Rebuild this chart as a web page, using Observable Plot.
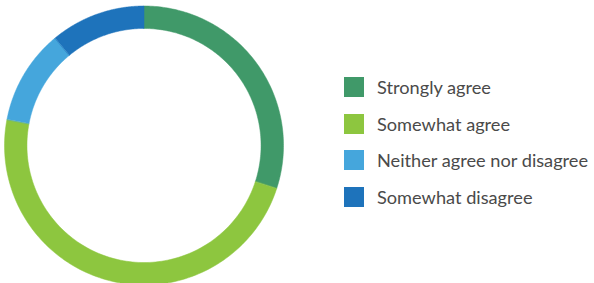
<!DOCTYPE html>
<html>
<head>
<meta charset="utf-8">
<script src="https://cdn.jsdelivr.net/npm/d3@7"></script>
<script src="https://cdn.jsdelivr.net/npm/@observablehq/plot@0.6"></script>
<style>
  html, body { margin: 0; padding: 0; background: #fff; }
  #wrap { position: relative; width: 594px; height: 283px; overflow: hidden; font-family: Lato, "Open Sans", sans-serif; }
  #legend { position: absolute; left: 344px; top: 77px; }
  .row { display: flex; align-items: center; height: 20px; margin-bottom: 16.7px; }
  .sw { width: 20px; height: 20px; margin-right: 13px; flex: none; }
  .lb { font-size: 18.2px; color: #4a4a4a; white-space: nowrap; }
</style>
</head>
<body>
<div id="wrap"></div>
<script>
const categories = ["Strongly agree", "Somewhat agree", "Neither agree nor disagree", "Somewhat disagree"];
const values = [30, 48, 11, 11];
const colors = ["#409969", "#8dc63f", "#45a6dc", "#1e73bb"];

const outerR = 1;
const innerR = 0.839;
const total = d3.sum(values);

// build slice polygons from values
const pts = [];
let acc = 0;
values.forEach((v, i) => {
  const a0 = acc / total * 2 * Math.PI;
  acc += v;
  const a1 = acc / total * 2 * Math.PI;
  const n = 120;
  const ring = [];
  for (let k = 0; k <= n; k++) {
    const a = a0 + (a1 - a0) * k / n;
    ring.push({cat: categories[i], x: outerR * Math.sin(a), y: outerR * Math.cos(a)});
  }
  for (let k = n; k >= 0; k--) {
    const a = a0 + (a1 - a0) * k / n;
    ring.push({cat: categories[i], x: innerR * Math.sin(a), y: innerR * Math.cos(a)});
  }
  pts.push(...ring);
});

const cx = 143.5, cy = 145, R = 139.5;
const chart = Plot.plot({
  width: 594,
  height: 283,
  margin: 0,
  x: {type: "linear", domain: [-1, 1], range: [cx - R, cx + R], axis: null},
  y: {type: "linear", domain: [-1, 1], range: [cy + R, cy - R], axis: null},
  color: {domain: categories, range: colors},
  marks: [
    Plot.line(pts, {x: "x", y: "y", z: "cat", fill: "cat", stroke: "cat", strokeWidth: 0.5, curve: "linear-closed"})
  ]
});
chart.style.position = "absolute";
chart.style.left = "0";
chart.style.top = "0";
chart.style.overflow = "visible";

const wrap = document.getElementById("wrap");
wrap.appendChild(chart);

const legend = document.createElement("div");
legend.id = "legend";
categories.forEach((c, i) => {
  const row = document.createElement("div");
  row.className = "row";
  const sw = document.createElement("div");
  sw.className = "sw";
  sw.style.background = colors[i];
  const lb = document.createElement("span");
  lb.className = "lb";
  lb.textContent = c;
  row.appendChild(sw);
  row.appendChild(lb);
  legend.appendChild(row);
});
wrap.appendChild(legend);
</script>
</body>
</html>
